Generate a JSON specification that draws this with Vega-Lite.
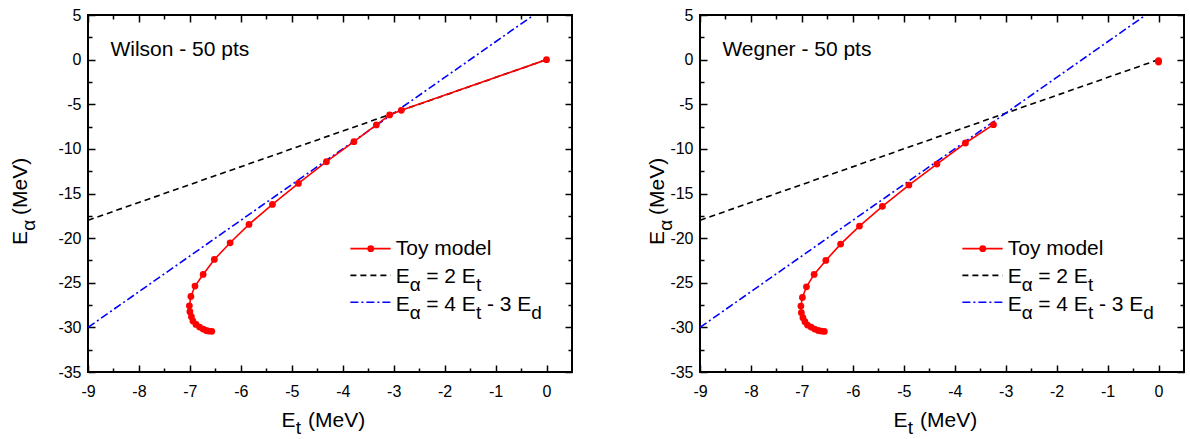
{
  "$schema": "https://vega.github.io/schema/vega-lite/v6.json",
  "padding": {"left": 8, "top": 6, "right": 0, "bottom": 0},
  "bounds": "flush",
  "spacing": 128,
  "config": {
    "font": "Liberation Sans",
    "view": {"stroke": "black", "strokeWidth": 2},
    "axis": {"labelFont": "Liberation Sans", "labelFontSize": 16, "labelColor": "black", "tickColor": "black", "tickWidth": 1.5, "domain": false, "grid": false, "labelFlush": false, "labelOverlap": false, "tickSize": 0}
  },
  "datasets": {
    "wilson": [
      {"i": 0, "x": 0, "y": 0},
      {"i": 1, "x": -2.85, "y": -5.68},
      {"i": 2, "x": -3.08, "y": -6.2},
      {"i": 3, "x": -3.34, "y": -7.32},
      {"i": 4, "x": -3.78, "y": -9.19},
      {"i": 5, "x": -4.32, "y": -11.43},
      {"i": 6, "x": -4.87, "y": -13.87},
      {"i": 7, "x": -5.38, "y": -16.22},
      {"i": 8, "x": -5.84, "y": -18.46},
      {"i": 9, "x": -6.21, "y": -20.52},
      {"i": 10, "x": -6.52, "y": -22.39},
      {"i": 11, "x": -6.74, "y": -24.07},
      {"i": 12, "x": -6.9, "y": -25.37},
      {"i": 13, "x": -6.98, "y": -26.54},
      {"i": 14, "x": -7.01, "y": -27.58},
      {"i": 15, "x": -7.0, "y": -28.25},
      {"i": 16, "x": -6.97, "y": -28.81},
      {"i": 17, "x": -6.94, "y": -29.29},
      {"i": 18, "x": -6.88, "y": -29.67},
      {"i": 19, "x": -6.81, "y": -29.97},
      {"i": 20, "x": -6.74, "y": -30.19},
      {"i": 21, "x": -6.68, "y": -30.35},
      {"i": 22, "x": -6.63, "y": -30.42},
      {"i": 23, "x": -6.57, "y": -30.44}
    ],
    "wegner": [
      {"i": 1, "x": -3.24, "y": -7.29},
      {"i": 2, "x": -3.79, "y": -9.34},
      {"i": 3, "x": -4.35, "y": -11.7},
      {"i": 4, "x": -4.9, "y": -14.05},
      {"i": 5, "x": -5.42, "y": -16.44},
      {"i": 6, "x": -5.87, "y": -18.65},
      {"i": 7, "x": -6.24, "y": -20.67},
      {"i": 8, "x": -6.53, "y": -22.5},
      {"i": 9, "x": -6.76, "y": -24.07},
      {"i": 10, "x": -6.91, "y": -25.45},
      {"i": 11, "x": -6.99, "y": -26.65},
      {"i": 12, "x": -7.02, "y": -27.61},
      {"i": 13, "x": -7.01, "y": -28.36},
      {"i": 14, "x": -6.98, "y": -28.92},
      {"i": 15, "x": -6.94, "y": -29.37},
      {"i": 16, "x": -6.89, "y": -29.74},
      {"i": 17, "x": -6.82, "y": -29.97},
      {"i": 18, "x": -6.75, "y": -30.19},
      {"i": 19, "x": -6.68, "y": -30.35},
      {"i": 20, "x": -6.62, "y": -30.42},
      {"i": 21, "x": -6.56, "y": -30.46}
    ],
    "wegner0": [
      {"x": 0, "y": -0.1},
      {"x": 0, "y": -0.28}
    ],
    "twoEt": [{"x": -9, "y": -18}, {"x": 0, "y": 0}],
    "fourEt": [{"x": -9, "y": -30}, {"x": -0.25, "y": 5}]
  },
  "hconcat": [
    {
      "width": 484,
      "height": 357,
      "resolve": {"axis": {"x": "independent", "y": "independent"}},
      "layer": [
        {
          "data": {"name": "twoEt"},
          "mark": {"type": "line", "color": "black", "strokeWidth": 1.6, "strokeDash": [6, 4]},
          "encoding": {
            "x": {"field": "x", "type": "quantitative", "scale": {"domain": [-9, 0.5], "nice": false, "zero": false},
              "axis": {"orient": "bottom", "title": null, "values": [-9, -8.5, -8, -7.5, -7, -6.5, -6, -5.5, -5, -4.5, -4, -3.5, -3, -2.5, -2, -1.5, -1, -0.5, 0], "labelExpr": "datum.value % 1 === 0 ? '' + datum.value : ''", "labelPadding": 11, "encoding": {"ticks": {"y2": {"value": {"expr": "datum.value % 1 === 0 ? -7 : -4"}}}}}},
            "y": {"field": "y", "type": "quantitative", "scale": {"domain": [-35, 5], "nice": false, "zero": false},
              "axis": {"orient": "left", "title": null, "values": [-35, -32.5, -30, -27.5, -25, -22.5, -20, -17.5, -15, -12.5, -10, -7.5, -5, -2.5, 0, 2.5, 5], "labelExpr": "datum.value % 5 === 0 ? '' + datum.value : ''", "labelPadding": 7, "encoding": {"ticks": {"x2": {"value": {"expr": "datum.value % 5 === 0 ? 7 : 4"}}}}}}
          }
        },
        {
          "data": {"name": "fourEt"},
          "mark": {"type": "line", "color": "#0000ff", "strokeWidth": 1.6, "strokeDash": [8, 3, 2, 3]},
          "encoding": {
            "x": {"field": "x", "type": "quantitative",
              "axis": {"orient": "top", "title": null, "labels": false, "values": [-9, -8.5, -8, -7.5, -7, -6.5, -6, -5.5, -5, -4.5, -4, -3.5, -3, -2.5, -2, -1.5, -1, -0.5, 0], "encoding": {"ticks": {"y2": {"value": {"expr": "datum.value % 1 === 0 ? 7 : 4"}}}}}},
            "y": {"field": "y", "type": "quantitative",
              "axis": {"orient": "right", "title": null, "labels": false, "values": [-35, -32.5, -30, -27.5, -25, -22.5, -20, -17.5, -15, -12.5, -10, -7.5, -5, -2.5, 0, 2.5, 5], "encoding": {"ticks": {"x2": {"value": {"expr": "datum.value % 5 === 0 ? -7 : -4"}}}}}}
          }
        },
        {
          "data": {"name": "wilson"},
          "mark": {"type": "line", "color": "#ff0000", "strokeWidth": 1.6},
          "encoding": {
            "x": {"field": "x", "type": "quantitative", "axis": null},
            "y": {"field": "y", "type": "quantitative", "axis": null},
            "order": {"field": "i"}
          }
        },
        {
          "data": {"name": "wilson"},
          "mark": {"type": "point", "filled": true, "opacity": 1, "color": "#ff0000", "size": 46},
          "encoding": {
            "x": {"field": "x", "type": "quantitative", "axis": null},
            "y": {"field": "y", "type": "quantitative", "axis": null}
          }
        },
        {
          "data": {"values": [{}]},
          "mark": {"type": "rule", "color": "#ff0000", "strokeWidth": 1.6},
          "encoding": {"x": {"datum": -3.85, "type": "quantitative", "axis": null}, "x2": {"datum": -3.06}, "y": {"datum": -21.18, "type": "quantitative", "axis": null}}
        },
        {
          "data": {"values": [{}]},
          "mark": {"type": "point", "filled": true, "opacity": 1, "color": "#ff0000", "size": 46},
          "encoding": {"x": {"datum": -3.45, "type": "quantitative", "axis": null}, "y": {"datum": -21.18, "type": "quantitative", "axis": null}}
        },
        {
          "data": {"values": [{}]},
          "mark": {"type": "rule", "color": "black", "strokeWidth": 1.6, "strokeDash": [6, 4]},
          "encoding": {"x": {"datum": -3.85, "type": "quantitative", "axis": null}, "x2": {"datum": -3.06}, "y": {"datum": -24.17, "type": "quantitative", "axis": null}}
        },
        {
          "data": {"values": [{}]},
          "mark": {"type": "rule", "color": "#0000ff", "strokeWidth": 1.6, "strokeDash": [8, 3, 2, 3]},
          "encoding": {"x": {"datum": -3.85, "type": "quantitative", "axis": null}, "x2": {"datum": -3.06}, "y": {"datum": -27.19, "type": "quantitative", "axis": null}}
        },
        {
          "data": {"values": [{}]},
          "mark": {"type": "text", "align": "left", "baseline": "alphabetic", "fontSize": 21, "color": "black"},
          "encoding": {"x": {"datum": -2.96, "type": "quantitative", "axis": null}, "y": {"datum": -21.92, "type": "quantitative", "axis": null}, "text": {"value": "Toy model"}}
        },
        {
          "data": {"values": [{}]},
          "mark": {"type": "text", "align": "left", "baseline": "alphabetic", "fontSize": 21, "color": "black"},
          "encoding": {"x": {"datum": -2.96, "type": "quantitative", "axis": null}, "y": {"datum": -25.03, "type": "quantitative", "axis": null}, "text": {"value": "E"}}
        },
        {
          "data": {"values": [{}]},
          "mark": {"type": "text", "align": "left", "baseline": "alphabetic", "fontSize": 19, "color": "black", "dx": 14, "dy": 8},
          "encoding": {"x": {"datum": -2.96, "type": "quantitative", "axis": null}, "y": {"datum": -25.03, "type": "quantitative", "axis": null}, "text": {"value": "α"}}
        },
        {
          "data": {"values": [{}]},
          "mark": {"type": "text", "align": "left", "baseline": "alphabetic", "fontSize": 21, "color": "black", "dx": 30.5},
          "encoding": {"x": {"datum": -2.96, "type": "quantitative", "axis": null}, "y": {"datum": -25.03, "type": "quantitative", "axis": null}, "text": {"value": "= 2 E"}}
        },
        {
          "data": {"values": [{}]},
          "mark": {"type": "text", "align": "left", "baseline": "alphabetic", "fontSize": 19, "color": "black", "dx": 80.2, "dy": 8},
          "encoding": {"x": {"datum": -2.96, "type": "quantitative", "axis": null}, "y": {"datum": -25.03, "type": "quantitative", "axis": null}, "text": {"value": "t"}}
        },
        {
          "data": {"values": [{}]},
          "mark": {"type": "text", "align": "left", "baseline": "alphabetic", "fontSize": 21, "color": "black"},
          "encoding": {"x": {"datum": -2.96, "type": "quantitative", "axis": null}, "y": {"datum": -28.13, "type": "quantitative", "axis": null}, "text": {"value": "E"}}
        },
        {
          "data": {"values": [{}]},
          "mark": {"type": "text", "align": "left", "baseline": "alphabetic", "fontSize": 19, "color": "black", "dx": 14, "dy": 8},
          "encoding": {"x": {"datum": -2.96, "type": "quantitative", "axis": null}, "y": {"datum": -28.13, "type": "quantitative", "axis": null}, "text": {"value": "α"}}
        },
        {
          "data": {"values": [{}]},
          "mark": {"type": "text", "align": "left", "baseline": "alphabetic", "fontSize": 21, "color": "black", "dx": 30.5},
          "encoding": {"x": {"datum": -2.96, "type": "quantitative", "axis": null}, "y": {"datum": -28.13, "type": "quantitative", "axis": null}, "text": {"value": "= 4 E"}}
        },
        {
          "data": {"values": [{}]},
          "mark": {"type": "text", "align": "left", "baseline": "alphabetic", "fontSize": 19, "color": "black", "dx": 80.2, "dy": 8},
          "encoding": {"x": {"datum": -2.96, "type": "quantitative", "axis": null}, "y": {"datum": -28.13, "type": "quantitative", "axis": null}, "text": {"value": "t"}}
        },
        {
          "data": {"values": [{}]},
          "mark": {"type": "text", "align": "left", "baseline": "alphabetic", "fontSize": 21, "color": "black", "dx": 91.3},
          "encoding": {"x": {"datum": -2.96, "type": "quantitative", "axis": null}, "y": {"datum": -28.13, "type": "quantitative", "axis": null}, "text": {"value": "- 3 E"}}
        },
        {
          "data": {"values": [{}]},
          "mark": {"type": "text", "align": "left", "baseline": "alphabetic", "fontSize": 19, "color": "black", "dx": 135.6, "dy": 8},
          "encoding": {"x": {"datum": -2.96, "type": "quantitative", "axis": null}, "y": {"datum": -28.13, "type": "quantitative", "axis": null}, "text": {"value": "d"}}
        },
        {
          "data": {"values": [{}]},
          "mark": {"type": "text", "align": "left", "baseline": "alphabetic", "fontSize": 21, "color": "black"},
          "encoding": {"x": {"datum": -8.56, "type": "quantitative", "axis": null}, "y": {"datum": 0.4, "type": "quantitative", "axis": null}, "text": {"value": "Wilson - 50 pts"}}
        },
        {
          "data": {"values": [{}]},
          "mark": {"type": "text", "align": "left", "baseline": "alphabetic", "fontSize": 21, "color": "black", "dy": 55},
          "encoding": {"x": {"datum": -5.2, "type": "quantitative", "axis": null}, "y": {"datum": -35, "type": "quantitative", "axis": null}, "text": {"value": "E"}}
        },
        {
          "data": {"values": [{}]},
          "mark": {"type": "text", "align": "left", "baseline": "alphabetic", "fontSize": 19, "color": "black", "dx": 14.2, "dy": 62},
          "encoding": {"x": {"datum": -5.2, "type": "quantitative", "axis": null}, "y": {"datum": -35, "type": "quantitative", "axis": null}, "text": {"value": "t"}}
        },
        {
          "data": {"values": [{}]},
          "mark": {"type": "text", "align": "left", "baseline": "alphabetic", "fontSize": 21, "color": "black", "dx": 26.5, "dy": 55},
          "encoding": {"x": {"datum": -5.2, "type": "quantitative", "axis": null}, "y": {"datum": -35, "type": "quantitative", "axis": null}, "text": {"value": "(MeV)"}}
        },
        {
          "data": {"values": [{}]},
          "mark": {"type": "text", "align": "left", "baseline": "alphabetic", "fontSize": 21, "color": "black", "angle": 270, "dy": -61},
          "encoding": {"x": {"datum": -9, "type": "quantitative", "axis": null}, "y": {"datum": -20.77, "type": "quantitative", "axis": null}, "text": {"value": "E"}}
        },
        {
          "data": {"values": [{}]},
          "mark": {"type": "text", "align": "left", "baseline": "alphabetic", "fontSize": 19, "color": "black", "angle": 270, "dx": 14.2, "dy": -53},
          "encoding": {"x": {"datum": -9, "type": "quantitative", "axis": null}, "y": {"datum": -20.77, "type": "quantitative", "axis": null}, "text": {"value": "α"}}
        },
        {
          "data": {"values": [{}]},
          "mark": {"type": "text", "align": "left", "baseline": "alphabetic", "fontSize": 21, "color": "black", "angle": 270, "dx": 30, "dy": -61},
          "encoding": {"x": {"datum": -9, "type": "quantitative", "axis": null}, "y": {"datum": -20.77, "type": "quantitative", "axis": null}, "text": {"value": "(MeV)"}}
        }
      ]
    },
    {
      "width": 484,
      "height": 357,
      "resolve": {"axis": {"x": "independent", "y": "independent"}},
      "layer": [
        {
          "data": {"name": "twoEt"},
          "mark": {"type": "line", "color": "black", "strokeWidth": 1.6, "strokeDash": [6, 4]},
          "encoding": {
            "x": {"field": "x", "type": "quantitative", "scale": {"domain": [-9, 0.5], "nice": false, "zero": false},
              "axis": {"orient": "bottom", "title": null, "values": [-9, -8.5, -8, -7.5, -7, -6.5, -6, -5.5, -5, -4.5, -4, -3.5, -3, -2.5, -2, -1.5, -1, -0.5, 0], "labelExpr": "datum.value % 1 === 0 ? '' + datum.value : ''", "labelPadding": 11, "encoding": {"ticks": {"y2": {"value": {"expr": "datum.value % 1 === 0 ? -7 : -4"}}}}}},
            "y": {"field": "y", "type": "quantitative", "scale": {"domain": [-35, 5], "nice": false, "zero": false},
              "axis": {"orient": "left", "title": null, "values": [-35, -32.5, -30, -27.5, -25, -22.5, -20, -17.5, -15, -12.5, -10, -7.5, -5, -2.5, 0, 2.5, 5], "labelExpr": "datum.value % 5 === 0 ? '' + datum.value : ''", "labelPadding": 7, "encoding": {"ticks": {"x2": {"value": {"expr": "datum.value % 5 === 0 ? 7 : 4"}}}}}}
          }
        },
        {
          "data": {"name": "fourEt"},
          "mark": {"type": "line", "color": "#0000ff", "strokeWidth": 1.6, "strokeDash": [8, 3, 2, 3]},
          "encoding": {
            "x": {"field": "x", "type": "quantitative",
              "axis": {"orient": "top", "title": null, "labels": false, "values": [-9, -8.5, -8, -7.5, -7, -6.5, -6, -5.5, -5, -4.5, -4, -3.5, -3, -2.5, -2, -1.5, -1, -0.5, 0], "encoding": {"ticks": {"y2": {"value": {"expr": "datum.value % 1 === 0 ? 7 : 4"}}}}}},
            "y": {"field": "y", "type": "quantitative",
              "axis": {"orient": "right", "title": null, "labels": false, "values": [-35, -32.5, -30, -27.5, -25, -22.5, -20, -17.5, -15, -12.5, -10, -7.5, -5, -2.5, 0, 2.5, 5], "encoding": {"ticks": {"x2": {"value": {"expr": "datum.value % 5 === 0 ? -7 : -4"}}}}}}
          }
        },
        {
          "data": {"name": "wegner"},
          "mark": {"type": "line", "color": "#ff0000", "strokeWidth": 1.6},
          "encoding": {
            "x": {"field": "x", "type": "quantitative", "axis": null},
            "y": {"field": "y", "type": "quantitative", "axis": null},
            "order": {"field": "i"}
          }
        },
        {
          "data": {"name": "wegner"},
          "mark": {"type": "point", "filled": true, "opacity": 1, "color": "#ff0000", "size": 46},
          "encoding": {
            "x": {"field": "x", "type": "quantitative", "axis": null},
            "y": {"field": "y", "type": "quantitative", "axis": null}
          }
        },
        {
          "data": {"name": "wegner0"},
          "mark": {"type": "point", "filled": true, "opacity": 1, "color": "#ff0000", "size": 46},
          "encoding": {
            "x": {"field": "x", "type": "quantitative", "axis": null},
            "y": {"field": "y", "type": "quantitative", "axis": null}
          }
        },
        {
          "data": {"values": [{}]},
          "mark": {"type": "rule", "color": "#ff0000", "strokeWidth": 1.6},
          "encoding": {"x": {"datum": -3.85, "type": "quantitative", "axis": null}, "x2": {"datum": -3.06}, "y": {"datum": -21.18, "type": "quantitative", "axis": null}}
        },
        {
          "data": {"values": [{}]},
          "mark": {"type": "point", "filled": true, "opacity": 1, "color": "#ff0000", "size": 46},
          "encoding": {"x": {"datum": -3.45, "type": "quantitative", "axis": null}, "y": {"datum": -21.18, "type": "quantitative", "axis": null}}
        },
        {
          "data": {"values": [{}]},
          "mark": {"type": "rule", "color": "black", "strokeWidth": 1.6, "strokeDash": [6, 4]},
          "encoding": {"x": {"datum": -3.85, "type": "quantitative", "axis": null}, "x2": {"datum": -3.06}, "y": {"datum": -24.17, "type": "quantitative", "axis": null}}
        },
        {
          "data": {"values": [{}]},
          "mark": {"type": "rule", "color": "#0000ff", "strokeWidth": 1.6, "strokeDash": [8, 3, 2, 3]},
          "encoding": {"x": {"datum": -3.85, "type": "quantitative", "axis": null}, "x2": {"datum": -3.06}, "y": {"datum": -27.19, "type": "quantitative", "axis": null}}
        },
        {
          "data": {"values": [{}]},
          "mark": {"type": "text", "align": "left", "baseline": "alphabetic", "fontSize": 21, "color": "black"},
          "encoding": {"x": {"datum": -2.96, "type": "quantitative", "axis": null}, "y": {"datum": -21.92, "type": "quantitative", "axis": null}, "text": {"value": "Toy model"}}
        },
        {
          "data": {"values": [{}]},
          "mark": {"type": "text", "align": "left", "baseline": "alphabetic", "fontSize": 21, "color": "black"},
          "encoding": {"x": {"datum": -2.96, "type": "quantitative", "axis": null}, "y": {"datum": -25.03, "type": "quantitative", "axis": null}, "text": {"value": "E"}}
        },
        {
          "data": {"values": [{}]},
          "mark": {"type": "text", "align": "left", "baseline": "alphabetic", "fontSize": 19, "color": "black", "dx": 14, "dy": 8},
          "encoding": {"x": {"datum": -2.96, "type": "quantitative", "axis": null}, "y": {"datum": -25.03, "type": "quantitative", "axis": null}, "text": {"value": "α"}}
        },
        {
          "data": {"values": [{}]},
          "mark": {"type": "text", "align": "left", "baseline": "alphabetic", "fontSize": 21, "color": "black", "dx": 30.5},
          "encoding": {"x": {"datum": -2.96, "type": "quantitative", "axis": null}, "y": {"datum": -25.03, "type": "quantitative", "axis": null}, "text": {"value": "= 2 E"}}
        },
        {
          "data": {"values": [{}]},
          "mark": {"type": "text", "align": "left", "baseline": "alphabetic", "fontSize": 19, "color": "black", "dx": 80.2, "dy": 8},
          "encoding": {"x": {"datum": -2.96, "type": "quantitative", "axis": null}, "y": {"datum": -25.03, "type": "quantitative", "axis": null}, "text": {"value": "t"}}
        },
        {
          "data": {"values": [{}]},
          "mark": {"type": "text", "align": "left", "baseline": "alphabetic", "fontSize": 21, "color": "black"},
          "encoding": {"x": {"datum": -2.96, "type": "quantitative", "axis": null}, "y": {"datum": -28.13, "type": "quantitative", "axis": null}, "text": {"value": "E"}}
        },
        {
          "data": {"values": [{}]},
          "mark": {"type": "text", "align": "left", "baseline": "alphabetic", "fontSize": 19, "color": "black", "dx": 14, "dy": 8},
          "encoding": {"x": {"datum": -2.96, "type": "quantitative", "axis": null}, "y": {"datum": -28.13, "type": "quantitative", "axis": null}, "text": {"value": "α"}}
        },
        {
          "data": {"values": [{}]},
          "mark": {"type": "text", "align": "left", "baseline": "alphabetic", "fontSize": 21, "color": "black", "dx": 30.5},
          "encoding": {"x": {"datum": -2.96, "type": "quantitative", "axis": null}, "y": {"datum": -28.13, "type": "quantitative", "axis": null}, "text": {"value": "= 4 E"}}
        },
        {
          "data": {"values": [{}]},
          "mark": {"type": "text", "align": "left", "baseline": "alphabetic", "fontSize": 19, "color": "black", "dx": 80.2, "dy": 8},
          "encoding": {"x": {"datum": -2.96, "type": "quantitative", "axis": null}, "y": {"datum": -28.13, "type": "quantitative", "axis": null}, "text": {"value": "t"}}
        },
        {
          "data": {"values": [{}]},
          "mark": {"type": "text", "align": "left", "baseline": "alphabetic", "fontSize": 21, "color": "black", "dx": 91.3},
          "encoding": {"x": {"datum": -2.96, "type": "quantitative", "axis": null}, "y": {"datum": -28.13, "type": "quantitative", "axis": null}, "text": {"value": "- 3 E"}}
        },
        {
          "data": {"values": [{}]},
          "mark": {"type": "text", "align": "left", "baseline": "alphabetic", "fontSize": 19, "color": "black", "dx": 135.6, "dy": 8},
          "encoding": {"x": {"datum": -2.96, "type": "quantitative", "axis": null}, "y": {"datum": -28.13, "type": "quantitative", "axis": null}, "text": {"value": "d"}}
        },
        {
          "data": {"values": [{}]},
          "mark": {"type": "text", "align": "left", "baseline": "alphabetic", "fontSize": 21, "color": "black"},
          "encoding": {"x": {"datum": -8.56, "type": "quantitative", "axis": null}, "y": {"datum": 0.4, "type": "quantitative", "axis": null}, "text": {"value": "Wegner - 50 pts"}}
        },
        {
          "data": {"values": [{}]},
          "mark": {"type": "text", "align": "left", "baseline": "alphabetic", "fontSize": 21, "color": "black", "dy": 55},
          "encoding": {"x": {"datum": -5.2, "type": "quantitative", "axis": null}, "y": {"datum": -35, "type": "quantitative", "axis": null}, "text": {"value": "E"}}
        },
        {
          "data": {"values": [{}]},
          "mark": {"type": "text", "align": "left", "baseline": "alphabetic", "fontSize": 19, "color": "black", "dx": 14.2, "dy": 62},
          "encoding": {"x": {"datum": -5.2, "type": "quantitative", "axis": null}, "y": {"datum": -35, "type": "quantitative", "axis": null}, "text": {"value": "t"}}
        },
        {
          "data": {"values": [{}]},
          "mark": {"type": "text", "align": "left", "baseline": "alphabetic", "fontSize": 21, "color": "black", "dx": 26.5, "dy": 55},
          "encoding": {"x": {"datum": -5.2, "type": "quantitative", "axis": null}, "y": {"datum": -35, "type": "quantitative", "axis": null}, "text": {"value": "(MeV)"}}
        },
        {
          "data": {"values": [{}]},
          "mark": {"type": "text", "align": "left", "baseline": "alphabetic", "fontSize": 21, "color": "black", "angle": 270, "dy": -36},
          "encoding": {"x": {"datum": -9, "type": "quantitative", "axis": null}, "y": {"datum": -20.77, "type": "quantitative", "axis": null}, "text": {"value": "E"}}
        },
        {
          "data": {"values": [{}]},
          "mark": {"type": "text", "align": "left", "baseline": "alphabetic", "fontSize": 19, "color": "black", "angle": 270, "dx": 14.2, "dy": -28},
          "encoding": {"x": {"datum": -9, "type": "quantitative", "axis": null}, "y": {"datum": -20.77, "type": "quantitative", "axis": null}, "text": {"value": "α"}}
        },
        {
          "data": {"values": [{}]},
          "mark": {"type": "text", "align": "left", "baseline": "alphabetic", "fontSize": 21, "color": "black", "angle": 270, "dx": 30, "dy": -36},
          "encoding": {"x": {"datum": -9, "type": "quantitative", "axis": null}, "y": {"datum": -20.77, "type": "quantitative", "axis": null}, "text": {"value": "(MeV)"}}
        }
      ]
    }
  ]
}
